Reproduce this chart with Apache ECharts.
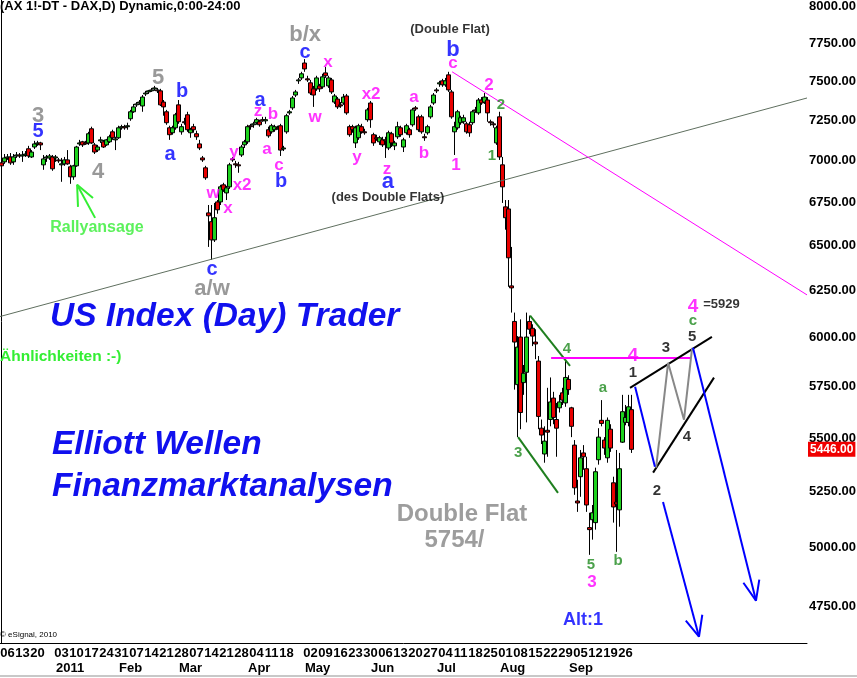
<!DOCTYPE html>
<html><head><meta charset="utf-8">
<script src="https://cdn.jsdelivr.net/npm/echarts@6/dist/echarts.min.js"></script>
<style>html,body{margin:0;padding:0;background:#fff}#c{width:857px;height:678px}</style>
</head><body><div id="c"></div>
<script>
// ---- data (FDAX daily, Dec 2010 - Sep 2011) ----
const holidays = ['2010-12-24','2010-12-31','2011-04-22','2011-04-25'];
const opens = [
6985,6991,7015,7021,6991,7027,7033,7027,7033,7071,
7021,7082,7101,7107,6973,7015,7015,7021,7015,7003,
6973,6979,7003,6961,6901,6967,7101,7114,7107,7107,
7195,7095,7063,7120,7114,7095,7114,7176,7126,7139,
7201,7208,7208,7258,7302,7346,7358,7339,7416,7429,
7436,7449,7442,7436,7364,7302,7201,7170,7201,7346,
7176,7239,7283,7170,7208,7164,7101,7015,6955,6688,
6637,6533,6752,6752,6853,6805,6841,7009,6979,6973,
7033,7095,7114,7214,7220,7233,7239,7252,7245,7189,
7176,7189,7201,7214,7070,7176,7295,7327,7409,7501,
7520,7618,7514,7488,7449,7449,7468,7462,7553,7468,
7507,7364,7383,7346,7358,7403,7208,7208,7107,7139,
7208,7176,7252,7358,7158,7139,7114,7126,7126,7076,
7164,7089,7145,7201,7082,7170,7189,7220,7327,7270,
7270,7145,7170,7270,7358,7442,7481,7501,7475,7540,
7429,7176,7201,7233,7239,7226,7220,7233,7314,7295,
7377,7364,7377,7239,7226,7107,7270,6973,6723,6711,
6277,6086,5761,6004,5771,5823,6086,6050,5978,5880,
5547,5424,5537,5589,5694,5589,5646,5720,5670,5787,
5646,5466,5207,5318,5429,5355,5088,5123,5110,5397,
5585,5490,5406,5542,5290,5202,5167,5480,5575,5575,
5637];
const closes = [
6967,7015,7021,6985,7021,7033,7027,7033,7039,7027,
7051,7101,7107,7095,7009,7021,7027,6949,7021,6997,
6979,7003,6979,6901,6967,7082,7107,7095,7101,7164,
7107,7051,7082,7126,7082,7126,7145,7139,7132,7201,
7208,7201,7214,7302,7333,7352,7364,7396,7422,7436,
7442,7455,7436,7346,7333,7233,7158,7201,7283,7239,
7208,7233,7189,7189,7189,7145,7076,7003,6895,6671,
6533,6660,6706,6841,6823,6835,6973,7003,6973,6967,
7082,7114,7208,7208,7226,7252,7220,7245,7252,7151,
7214,7208,7195,7063,7076,7277,7302,7390,7429,7507,
7547,7579,7507,7422,7409,7520,7449,7527,7534,7520,
7429,7403,7333,7339,7396,7295,7158,7189,7201,7214,
7176,7170,7314,7252,7107,7132,7139,7095,7120,7170,
7107,7107,7208,7158,7126,7214,7158,7314,7320,7189,
7176,7139,7208,7333,7409,7436,7488,7475,7501,7442,
7270,7208,7302,7264,7264,7176,7170,7302,7308,7377,
7358,7396,7295,7233,7220,7201,7021,6841,6660,6432,
6266,5978,5952,5623,5818,6004,6045,6009,5968,5604,
5514,5485,5528,5675,5599,5547,5675,5684,5797,5736,
5556,5267,5198,5406,5411,5189,5079,5154,5341,5504,
5570,5452,5585,5452,5180,5193,5355,5627,5599,5651,
5446];
const lows = [
6949,6979,7003,6973,6973,7015,7015,6991,7021,7015,
7015,7070,7089,7063,6943,6991,7003,6937,6991,6985,
6871,6967,6973,6859,6883,6961,7089,7082,7095,7095,
7101,7039,7051,7107,7076,7089,7107,7126,7063,7132,
7189,7189,7189,7245,7295,7333,7346,7302,7403,7416,
7429,7436,7422,7339,7277,7220,7126,7158,7189,7226,
7158,7220,7176,7139,7170,7126,7063,6991,6883,6493,
6421,6521,6683,6734,6811,6763,6829,6991,6955,6925,
7021,7076,7101,7189,7201,7220,7208,7239,7226,7139,
7164,7176,7189,7027,7057,7164,7283,7314,7396,7481,
7507,7560,7494,7409,7333,7436,7429,7449,7520,7455,
7416,7352,7320,7327,7346,7283,7145,7170,7076,7126,
7164,7158,7239,7201,7089,7120,7095,7082,7015,7063,
7082,7063,7132,7145,7051,7158,7139,7208,7308,7176,
7164,7120,7158,7258,7346,7422,7462,7462,7462,7429,
7258,7033,7189,7220,7226,7164,7145,7220,7295,7283,
7346,7352,7239,7214,7201,7095,7003,6746,6591,6272,
6133,5736,5504,5542,5710,5575,6019,5957,5890,5542,
5471,5383,5411,5556,5566,5411,5623,5660,5651,5710,
5504,5235,5158,5226,5350,5158,4969,5035,5079,5374,
5556,5420,5383,5434,5110,4982,5092,5476,5561,5556,
5429];
const highs = [
7003,7039,7039,7045,7039,7051,7045,7057,7057,7089,
7063,7120,7120,7114,7033,7033,7039,7033,7033,7015,
7015,7021,7063,6973,6973,7089,7126,7120,7120,7176,
7208,7107,7095,7145,7126,7132,7158,7189,7145,7214,
7220,7220,7233,7314,7352,7364,7377,7409,7436,7442,
7455,7468,7455,7449,7377,7314,7214,7214,7295,7377,
7226,7264,7302,7201,7226,7183,7126,7027,6967,6734,
6734,6746,6763,6853,6865,6847,6985,7021,6997,6991,
7095,7126,7220,7226,7239,7264,7252,7270,7270,7208,
7226,7220,7214,7226,7089,7289,7314,7403,7442,7520,
7560,7644,7534,7507,7468,7534,7481,7547,7592,7534,
7520,7416,7396,7364,7416,7416,7220,7220,7214,7226,
7226,7195,7327,7371,7170,7158,7151,7145,7145,7183,
7176,7120,7239,7214,7139,7226,7201,7327,7339,7283,
7283,7164,7220,7346,7422,7455,7501,7514,7520,7560,
7442,7239,7314,7277,7283,7239,7239,7314,7333,7390,
7396,7422,7396,7252,7239,7214,7302,7021,6763,6763,
6493,6133,6009,6097,5860,6133,6117,6071,6045,5906,
5589,5556,5745,5797,5725,5670,5710,5745,5880,5808,
5651,5490,5304,5443,5466,5411,5154,5189,5360,5547,
5684,5504,5599,5566,5318,5443,5429,5710,5660,5710,
5710];

const yTicks = [4750,5000,5250,5500,5750,6000,6250,6500,6750,7000,7250,7500,7750,8000];
const weekTicks = ['2010-12-06','2010-12-13','2010-12-20','2011-01-03','2011-01-10','2011-01-17','2011-01-24','2011-01-31',
'2011-02-07','2011-02-14','2011-02-21','2011-02-28','2011-03-07','2011-03-14','2011-03-21','2011-03-28','2011-04-04',
'2011-04-11','2011-04-18','2011-05-02','2011-05-09','2011-05-16','2011-05-23','2011-05-30','2011-06-06','2011-06-13',
'2011-06-20','2011-06-27','2011-07-04','2011-07-11','2011-07-18','2011-07-25','2011-08-01','2011-08-08','2011-08-15',
'2011-08-22','2011-08-29','2011-09-05','2011-09-12','2011-09-19','2011-09-26'];
const monthTickDates = ['2011-01-03','2011-02-01','2011-03-01','2011-04-01','2011-05-02','2011-06-01','2011-07-01','2011-08-01','2011-09-01'];
const monthTickNames = ['2011','Feb','Mar','Apr','May','Jun','Jul','Aug','Sep'];

// drawn wave-count lines [barIndex, price]
const trendGray   = [[-0.5,6112],[268.5,7390]];
const trendMag    = [[150.2,7560],[268.5,6228]];
const greenUpper  = [[176.2,6117],[189.5,5856]];
const greenLower  = [[172.2,5504],[185.5,5244]];
const magLevel    = [[183.2,5896],[229.5,5896]];
const wedgeUpper  = [[209.5,5745],[236.8,6005]];
const wedgeLower  = [[217.2,5337],[237.5,5796]];
const zigzag      = [[218.2,5360],[222.2,5871],[227.5,5588],[230.2,5948]];
const blueA       = [[211.2,5750],[217.8,5364]];
const blueB       = [[220.5,5202],[232.5,4628]];
const blueBHead   = [[228.1,4693],[232.5,4628],[233.6,4717]];
const blueC       = [[230.5,5948],[251.5,4775]];
const blueCHead   = [[247.3,4850],[251.5,4775],[252.6,4863]];
const rallyShaft  = [[31.2,6659],[25.2,6853]];
const rallyHead   = [[25.5,6723],[25.2,6853],[30.5,6775]];

// wave labels [barIndex, price, text, style]
const annotations = [
 [12.2,7277,'3','gray'],[32.2,6931,'4','gray'],[52.2,7520,'5','gray'],[101.2,7806,'b/x','gray'],[70.2,6261,'a/w','gray'],
 [12.2,7176,'5','blue'],[60.2,7429,'b','blue'],[56.2,7033,'a','blue'],[70.2,6366,'c','blue'],[86.2,7377,'a','blue'],
 [93.2,6871,'b','blue'],[101.2,7685,'c','blue'],[128.8,6871,'a','blueL'],[150.5,7705,'b','blueL'],
 [70.5,6805,'w','mag'],[75.5,6717,'x','mag'],[77.5,7051,'y','mag'],[80.2,6853,'x2','mag'],[85.5,7302,'z','mag'],
 [90.5,7283,'b','mag'],[88.5,7070,'a','mag'],[92.5,6973,'c','mag'],[108.8,7625,'x','mag'],[104.5,7270,'w','mag'],
 [123.2,7416,'x2','mag'],[118.5,7021,'y','mag'],[128.5,6943,'z','mag'],[137.5,7396,'a','mag'],[140.8,7045,'b','mag'],
 [151.5,6973,'1','mag'],[150.5,7618,'c','mag'],[162.5,7475,'2','mag'],[210.5,5907,'4','magL'],[230.5,6163,'4','magL'],
 [196.8,4850,'3','mag'],
 [166.5,7346,'2','green'],[163.5,7027,'1','green'],[188.5,5942,'4','green'],[172.2,5429,'3','green'],[200.5,5745,'a','green'],
 [230.5,6090,'c','green'],[196.5,4927,'5','green'],[205.5,4941,'b','green'],
 [210.5,5821,'1','black'],[221.5,5947,'3','black'],[230.2,6005,'5','black'],[218.5,5253,'2','black'],[228.5,5506,'4','black'],
 [240.0,6174,'=5929','note'],[149.5,7846,'(Double Flat)','note'],[128.8,6781,'(des Double Flats)','note'],
 [153.5,5145,'Double Flat','grayXL'],[151.0,5030,'5754/','grayXL'],[193.8,4697,'Alt:1','blueM'],
 [31.8,6602,'Rallyansage','rally']
];

// ---- build ----
function buildDates(){
  const out=[]; const d=new Date(Date.UTC(2010,11,2));
  while(out.length<269){
    const w=d.getUTCDay(); const s=d.toISOString().slice(0,10);
    if(w!==0&&w!==6&&holidays.indexOf(s)<0) out.push(s);
    d.setUTCDate(d.getUTCDate()+1);
  }
  return out;
}
const dates = buildDates();
const candles = dates.map((d,i)=> i<opens.length ? [opens[i],closes[i],lows[i],highs[i]] : '-');
const lastPrice = closes[closes.length-1];
const monthVals = monthTickDates.map(d=>dates.indexOf(d)-1.833);

const FONT='Arial, "Liberation Sans", sans-serif';
const styles = {
  gray:{color:'#808080',fontSize:22},
  grayXL:{color:'#858585',fontSize:24},
  blue:{color:'#0000ff',fontSize:20},
  blueL:{color:'#0000ff',fontSize:22},
  blueM:{color:'#0000ff',fontSize:18},
  mag:{color:'#ff00ff',fontSize:17},
  magL:{color:'#ff00ff',fontSize:19},
  green:{color:'#1e8a1e',fontSize:15},
  black:{color:'#000000',fontSize:15},
  note:{color:'#000000',fontSize:13},
  rally:{color:'#33ee33',fontSize:16}
};

function lineSeries(data,color,width){
  return {type:'line',xAxisIndex:1,yAxisIndex:0,data:data,symbol:'none',silent:true,animation:false,
    lineStyle:{color:color,width:width},z:5};
}
const bigText = {fontSize:33.5,fontWeight:'bold',fontStyle:'italic',color:'#1010ee',fontFamily:FONT};

const chart = echarts.init(document.getElementById('c'),null,{renderer:'canvas'});
chart.setOption({
  animation:false,
  backgroundColor:'#ffffff',
  textStyle:{fontFamily:FONT},
  title:[
    {text:'(AX 1!-DT - DAX,D) Dynamic,0:00-24:00',left:0,top:0,padding:0,textStyle:{fontSize:13,fontWeight:'bold',color:'#000',fontFamily:FONT}},
    {text:'US Index (Day) Trader',left:50,top:300,padding:0,textStyle:bigText},
    {text:'Ähnlichkeiten :-)',left:0,top:349,padding:0,textStyle:{fontSize:15.5,fontWeight:'bold',color:'#33ee33',fontFamily:FONT}},
    {text:'Elliott Wellen',left:52,top:428,padding:0,textStyle:bigText},
    {text:'Finanzmarktanalysen',left:52,top:470,padding:0,textStyle:bigText},
    {text:'© eSignal, 2010',left:0,top:631,padding:0,textStyle:{fontSize:8,fontWeight:'normal',color:'#000',fontFamily:FONT}}
  ],
  grid:{left:0,right:50,top:0,bottom:35,outerBoundsMode:'none',containLabel:false},
  xAxis:[
    {type:'category',data:dates,boundaryGap:true,position:'bottom',
     axisLine:{show:true,lineStyle:{color:'#000',width:1}},axisTick:{show:false},splitLine:{show:false},
     axisLabel:{show:true,interval:(i,v)=>weekTicks.indexOf(v)>=0,formatter:v=>v.slice(8),hideOverlap:false,
       fontSize:13,fontWeight:'bold',color:'#000',margin:4,fontFamily:FONT}},
    {type:'value',min:-0.5,max:268.5,position:'bottom',offset:15,
     axisLine:{show:false},axisTick:{show:false},splitLine:{show:false},
     axisLabel:{show:true,customValues:monthVals,align:'left',margin:4,fontSize:13,fontWeight:'bold',color:'#000',fontFamily:FONT,
       formatter:v=>{for(let k=0;k<monthVals.length;k++){if(Math.abs(monthVals[k]-v)<0.01)return monthTickNames[k];}return '';}}}
  ],
  yAxis:[{type:'log',logBase:10,min:4602.6,max:8046.7,position:'right',scale:false,
    axisLine:{show:true,lineStyle:{color:'#000',width:1}},axisTick:{show:false},splitLine:{show:false},
    axisLabel:{show:true,customValues:yTicks,formatter:v=>Number(v).toFixed(2),fontSize:13,fontWeight:'bold',color:'#000',margin:2,fontFamily:FONT}}],
  series:[
    lineSeries(trendGray,'#5f6f5f',1),
    lineSeries(trendMag,'#ff00ff',1),
    {type:'candlestick',xAxisIndex:0,yAxisIndex:0,data:candles,barWidth:4,z:3,
     itemStyle:{color:'#1ed21e',color0:'#e80000',borderColor:'#000',borderColor0:'#000',borderWidth:1},
     markLine:{silent:true,animation:false,symbol:['none','none'],lineStyle:{color:'transparent',width:0},
       label:{show:true,position:'end',formatter:lastPrice.toFixed(2),backgroundColor:'#f00000',color:'#fff',
         fontWeight:'bold',fontSize:12,padding:[2,2,1,2],distance:1,fontFamily:FONT},
       data:[{yAxis:lastPrice}]}},
    lineSeries(greenUpper,'#1f7f1f',2),
    lineSeries(greenLower,'#1f7f1f',2),
    lineSeries(magLevel,'#ff00ff',2),
    lineSeries(wedgeUpper,'#000000',2),
    lineSeries(wedgeLower,'#000000',2),
    lineSeries(zigzag,'#888888',2),
    lineSeries(blueA,'#0000ff',2),
    lineSeries(blueB,'#0000ff',2),
    lineSeries(blueBHead,'#0000ff',2),
    lineSeries(blueC,'#0000ff',2),
    lineSeries(blueCHead,'#0000ff',2),
    lineSeries(rallyShaft,'#33ee33',2),
    lineSeries(rallyHead,'#33ee33',2),
    {type:'scatter',xAxisIndex:1,yAxisIndex:0,symbolSize:0,silent:true,z:10,
     data:annotations.map(a=>({value:[a[0],a[1]],label:Object.assign({show:true,position:'inside',formatter:a[2],
        fontWeight:'bold',fontFamily:FONT},styles[a[3]])}))}
  ],
  graphic:[{type:'line',shape:{x1:0,y1:676,x2:857,y2:676},style:{stroke:'#c8c8c8',lineWidth:2},silent:true}]
});
</script></body></html>
